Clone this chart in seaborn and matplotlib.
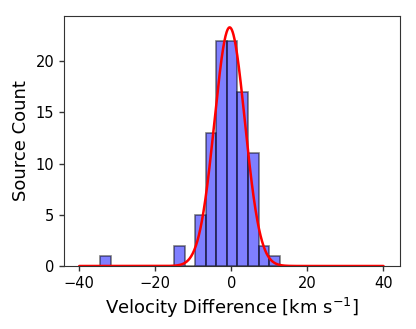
import numpy as np
import pandas as pd
import matplotlib
matplotlib.use("Agg")
import matplotlib.pyplot as plt
import seaborn as sns

# histogram: 17 equal bins between the min and max offset
bin_edges = list(np.round(np.linspace(-34.5, 12.7, 18), 3))
bin_counts = [1, 0, 0, 0, 0, 0, 0, 2, 0, 5, 13, 22, 22, 17, 11, 2, 1]

# gaussian fit drawn over the histogram
fit_amp = 23.3
fit_mu = -0.45
fit_sigma = 4.0
fit_range = (-40, 40)

sns.set_style("ticks", {"axes.edgecolor": "0.2", "text.color": "black",
                        "xtick.color": "0.2", "ytick.color": "0.2",
                        "axes.labelcolor": "black"})
plt.rcParams['font.family'] = ['DejaVu Sans']
plt.rcParams['xtick.labelcolor'] = 'black'
plt.rcParams['ytick.labelcolor'] = 'black'

edges = np.array(bin_edges)
centers = 0.5 * (edges[:-1] + edges[1:])
df = pd.DataFrame({"dv": centers, "n": bin_counts})

fig = plt.figure(figsize=(4.16, 3.29), dpi=100)
ax = fig.add_axes([0.154, 0.1915, 0.808, 0.7595])

sns.histplot(data=df, x="dv", weights="n", bins=bin_edges, ax=ax,
             color="blue", alpha=0.5, edgecolor=(0, 0, 0, 0.5), linewidth=1.2)

xs = np.linspace(fit_range[0], fit_range[1], 800)
ys = fit_amp * np.exp(-0.5 * ((xs - fit_mu) / fit_sigma) ** 2)
sns.lineplot(x=xs, y=ys, ax=ax, color="red", linewidth=1.8)

ax.set_xlim(-44, 44.4)
ax.set_ylim(0, 24.4)
ax.set_xticks([-40, -20, 0, 20, 40])
ax.set_yticks([0, 5, 10, 15, 20])
ax.tick_params(labelsize=10.5, width=1, length=3.5)
ax.set_xlabel("Velocity Difference [km s$^{-1}$]", fontsize=13)
ax.set_ylabel("Source Count", fontsize=13)

fig.savefig("out.png", dpi=100)
